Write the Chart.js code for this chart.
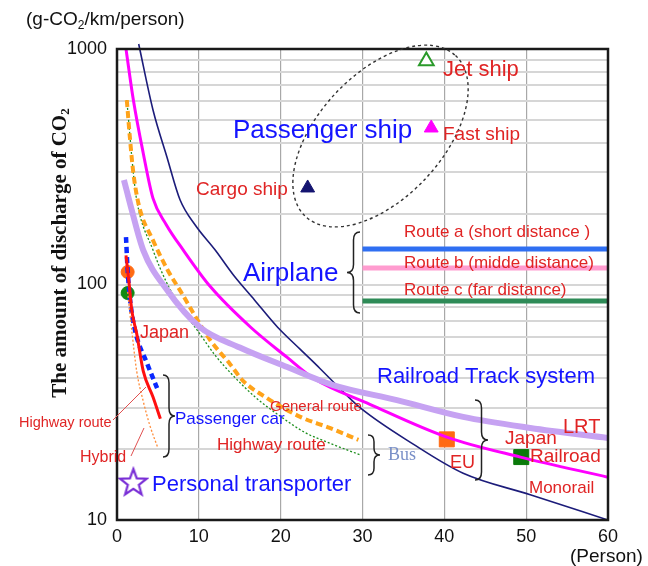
<!DOCTYPE html>
<html>
<head>
<meta charset="utf-8">
<script src="https://cdn.jsdelivr.net/npm/chart.js@4.4.0/dist/chart.umd.min.js"></script>
<style>
  html, body { margin: 0; padding: 0; background: #fff; }
  canvas { display: block; }
</style>
</head>
<body>
<canvas id="chart" width="648" height="566"></canvas>
<script>
// axis ticks
const xTicks = [0, 10, 20, 30, 40, 50, 60];
const yGrid = [10, 20, 30, 40, 50, 60, 70, 80, 90, 100, 200, 300, 400, 500, 600, 700, 800, 900, 1000];
const yLabels = [10, 100, 1000];

// curves (x = persons, y = g-CO2/km/person)
const monorailX = [2.65, 4.4, 6.1, 7.7, 9.6, 12.0, 14.2, 16.8, 19.6, 22.4, 24.8, 27.3, 29.7, 36.2, 42.3, 50.5, 60];
const monorailY = [1050, 551, 348, 229, 178, 140, 110, 86, 66, 53, 44, 36, 30, 21, 15.8, 12.8, 10];

const railX = [1.1, 2.0, 3.2, 4.4, 6.0, 8.1, 11.4, 16.3, 20.8, 24.0, 30.9, 40.3, 49.3, 60];
const railY = [1000, 607, 362, 232, 180, 140, 98, 66, 49, 40, 31, 22.5, 18.5, 15.2];

const lrtX = [0.85, 1.8, 3.2, 6.1, 10.1, 15, 20.8, 26.4, 34.2, 42.3, 50.5, 60];
const lrtY = [278, 207, 140, 95, 66, 54, 44.6, 37.4, 32.3, 27.4, 24.6, 22.3];

const busGeneralX = [1.2, 1.6, 2.0, 2.7, 4.4, 6.2, 7.9, 9.8, 11.4, 13.8, 15.4, 18.3, 22.4, 26, 29.5];
const busGeneralY = [607, 411, 297, 215, 154, 115, 92, 71, 58, 46, 39, 33, 27.4, 24.6, 21.9];

const busHighwayX = [1.2, 2.0, 2.4, 4.4, 6.0, 8.0, 9.8, 12, 14.2, 17, 20, 23, 26, 29.7];
const busHighwayY = [607, 297, 229, 140, 103, 78, 64, 50, 41, 33, 27.5, 23.5, 21.2, 18.9];

const carGeneralX = [1.1, 1.3, 1.6, 2.2, 3.7, 4.9];
const carGeneralY = [159, 115, 86, 64, 46, 36.3];

const carHighwayX = [1.1, 1.5, 1.8, 2.4, 3.2, 4.4, 5.3];
const carHighwayY = [133, 99.5, 78, 62, 43, 33.3, 26.9];

const hybridX = [1.3, 1.8, 2.4, 3.2, 4.0, 5.0];
const hybridY = [93, 64, 43, 32, 25.3, 20.2];

// airplane routes (flat, from 30 to 60 persons)
const routeX = [30, 60];
const routeA = 141.5;
const routeB = 117.5;
const routeC = 85;

// single points
const carJapan = [1.3, 113];
const carHybrid = [1.3, 92];
const cargoShip = [23.3, 257];
const fastShip = [38.4, 462];
const jetShip = [37.8, 889];
const railEU = [40.3, 22];
const railJapan = [49.4, 18.5];
const transporter = [2.0, 14.5];

const RED = '#e02424';
const BLUE = '#1414ff';
const SANS = "'Liberation Sans', Arial, sans-serif";
const SERIF = "'Liberation Serif', 'Times New Roman', serif";

function pts(xs, ys) {
  return xs.map((x, i) => ({ x: x, y: ys[i] }));
}
function flat(xs, v) {
  return xs.map(x => ({ x: x, y: v }));
}

function curve(data, color, width, dash, extra) {
  return Object.assign({
    data: data,
    showLine: true,
    borderColor: color,
    borderWidth: width,
    borderDash: dash || [],
    pointRadius: 0,
    cubicInterpolationMode: 'monotone',
    fill: false
  }, extra || {});
}

function marker(p, style, radius, fillColor, strokeColor, bw) {
  return {
    data: [{ x: p[0], y: p[1] }],
    showLine: false,
    pointStyle: style,
    pointRadius: radius,
    pointBackgroundColor: fillColor,
    pointBorderColor: strokeColor || fillColor,
    pointBorderWidth: bw || 1
  };
}

// open star for the personal transporter
const star = document.createElement('canvas');
star.width = 32; star.height = 32;
(function () {
  const c = star.getContext('2d');
  c.beginPath();
  for (let i = 0; i < 10; i++) {
    const r = i % 2 === 0 ? 14 : 5.8;
    const a = -Math.PI / 2 + i * Math.PI / 5;
    c.lineTo(16 + r * Math.cos(a), 17 + r * Math.sin(a));
  }
  c.closePath();
  c.strokeStyle = '#7a2fd6';
  c.lineWidth = 2.2;
  c.stroke();
})();

// labels drawn on the plot: text, left x, middle y, size, colour, family
const notes = [
  ['Jet ship', 443, 70, 22, RED],
  ['Fast ship', 443, 135, 19, RED],
  ['Passenger ship', 233, 131, 26, BLUE],
  ['Cargo ship', 196, 190, 19, RED],
  ['Route a (short distance )', 404, 232, 17, RED],
  ['Route b (midde distance)', 404, 263, 17, RED],
  ['Route c (far distance)', 404, 290, 17, RED],
  ['Airplane', 243, 274, 26, BLUE],
  ['Japan', 140, 333, 18, RED],
  ['Railroad Track system', 377, 377, 22, BLUE],
  ['LRT', 563, 427, 20, RED],
  ['Japan', 505, 439, 19, RED],
  ['Railroad', 530, 457, 19, RED],
  ['EU', 450, 463, 18, RED],
  ['Monorail', 529, 488, 17, RED],
  ['General route', 270, 407, 15, RED],
  ['Highway route', 217, 445, 17, RED],
  ['Passenger car', 175, 419, 17, BLUE],
  ['Highway route', 19, 423, 14.5, RED],
  ['Hybrid', 80, 458, 16, RED],
  ['Personal transporter', 152, 485, 22, BLUE],
  ['Bus', 388, 455, 18, '#7a90c8', SERIF],
  ['(Person)', 570, 557, 19, '#111']
];

function brace(ctx, x, tip, y1, y2) {
  const d = (tip - x) / 2, ym = (y1 + y2) / 2, r = Math.min(8, (y2 - y1) / 6);
  ctx.beginPath();
  ctx.moveTo(x, y1);
  ctx.quadraticCurveTo(x + d, y1, x + d, y1 + r);
  ctx.lineTo(x + d, ym - r);
  ctx.quadraticCurveTo(x + d, ym, tip, ym);
  ctx.quadraticCurveTo(x + d, ym, x + d, ym + r);
  ctx.lineTo(x + d, y2 - r);
  ctx.quadraticCurveTo(x + d, y2, x, y2);
  ctx.stroke();
}

const overlay = {
  id: 'overlay',
  afterDatasetsDraw(chart) {
    const ctx = chart.ctx, a = chart.chartArea;
    const sx = chart.scales.x, sy = chart.scales.y;
    ctx.save();

    // box round the plot
    ctx.strokeStyle = '#1a1a1a';
    ctx.lineWidth = 2.5;
    ctx.strokeRect(a.left, a.top, a.right - a.left, a.bottom - a.top);

    // dashed ellipse round the ships
    ctx.strokeStyle = '#333';
    ctx.lineWidth = 1.4;
    ctx.setLineDash([3, 3]);
    ctx.beginPath();
    ctx.ellipse(sx.getPixelForValue(32.2), sy.getPixelForValue(427), 110, 62, -47 * Math.PI / 180, 0, Math.PI * 2);
    ctx.stroke();
    ctx.setLineDash([]);

    // braces
    ctx.strokeStyle = '#222';
    ctx.lineWidth = 1.5;
    brace(ctx, 360, 347, 232, 313);
    brace(ctx, 163, 175, 375, 457);
    brace(ctx, 368, 380, 435, 475);
    brace(ctx, 475, 488, 400, 480);

    // leader lines for the small car labels
    ctx.strokeStyle = '#e05050';
    ctx.lineWidth = 1;
    ctx.beginPath();
    ctx.moveTo(113, 420); ctx.lineTo(146, 387);
    ctx.moveTo(131, 456); ctx.lineTo(144, 428);
    ctx.stroke();

    // texts
    ctx.textBaseline = 'middle';
    ctx.textAlign = 'left';
    notes.forEach(n => {
      ctx.font = n[3] + 'px ' + (n[5] || SANS);
      ctx.fillStyle = n[4];
      ctx.fillText(n[0], n[1], n[2]);
    });

    // unit at the top left
    ctx.fillStyle = '#111';
    ctx.font = '19px ' + SANS;
    let x = 26;
    ctx.fillText('(g-CO', x, 20);
    x += ctx.measureText('(g-CO').width;
    ctx.font = '12px ' + SANS;
    ctx.fillText('2', x, 26);
    x += ctx.measureText('2').width;
    ctx.font = '19px ' + SANS;
    ctx.fillText('/km/person)', x, 20);

    // y axis title, rotated
    ctx.translate(61, 253);
    ctx.rotate(-Math.PI / 2);
    ctx.font = 'bold 21px ' + SERIF;
    const main = 'The amount of discharge of CO';
    ctx.font = 'bold 21px ' + SERIF;
    const w1 = ctx.measureText(main).width;
    ctx.font = 'bold 13px ' + SERIF;
    const w2 = ctx.measureText('2').width;
    let tx = -(w1 + w2) / 2;
    ctx.font = 'bold 21px ' + SERIF;
    ctx.fillText(main, tx, 0);
    ctx.font = 'bold 13px ' + SERIF;
    ctx.fillText('2', tx + w1, 5);

    ctx.restore();
  }
};

Chart.defaults.font.family = SANS;

new Chart(document.getElementById('chart'), {
  type: 'scatter',
  data: {
    datasets: [
      curve(flat(routeX, routeA), '#2f6ff2', 5, null, { cubicInterpolationMode: 'default' }),
      curve(flat(routeX, routeB), '#ff9ccf', 5, null, { cubicInterpolationMode: 'default' }),
      curve(flat(routeX, routeC), '#2e8b57', 5, null, { cubicInterpolationMode: 'default' }),
      curve(pts(lrtX, lrtY), '#c6a2f2', 6),
      curve(pts(busGeneralX, busGeneralY), '#ffa31a', 4, [7, 4]),
      curve(pts(busHighwayX, busHighwayY), '#1f8f1f', 1.3, [2, 2]),
      curve(pts(railX, railY), '#ff00ff', 3),
      curve(pts(monorailX, monorailY), '#1c1c7a', 1.6, null, { clip: { left: 0, top: 6, right: 0, bottom: 0 } }),
      curve(pts(hybridX, hybridY), '#ff8c3a', 1.3, [2, 2]),
      curve(pts(carHighwayX, carHighwayY), '#ff1010', 3),
      curve(pts(carGeneralX, carGeneralY), '#0a28ff', 4.5, [6, 4]),
      marker(carJapan, 'circle', 6.5, '#ff6a13'),
      marker(carHybrid, 'circle', 6.5, '#118a11'),
      marker(cargoShip, 'triangle', 8, '#141470'),
      marker(fastShip, 'triangle', 8, '#ff00ff'),
      marker(jetShip, 'triangle', 8.5, '#ffffff', '#2a9a2a', 2),
      marker(railEU, 'rect', 10.6, '#ff6a13'),
      marker(railJapan, 'rect', 10.6, '#0a7a0a'),
      marker(transporter, star, 16, '#ffffff')
    ]
  },
  options: {
    responsive: false,
    animation: false,
    devicePixelRatio: 1,
    layout: { padding: { top: 49, right: 40, bottom: 0, left: 0 } },
    plugins: { legend: { display: false }, tooltip: { enabled: false } },
    scales: {
      x: {
        type: 'linear',
        min: 0,
        max: 60,
        afterFit(scale) { scale.height = 46; },
        afterBuildTicks(scale) { scale.ticks = xTicks.map(v => ({ value: v })); },
        grid: { color: '#a8a8a8', lineWidth: 1.2, drawTicks: false },
        border: { display: false },
        ticks: { color: '#111', font: { size: 18 }, padding: 6, maxRotation: 0 }
      },
      y: {
        type: 'logarithmic',
        min: 10,
        max: 1000,
        afterFit(scale) { scale.width = 117; },
        afterBuildTicks(scale) { scale.ticks = yGrid.map(v => ({ value: v })); },
        grid: { color: '#d6d6d6', lineWidth: 2, drawTicks: false },
        border: { display: false },
        ticks: {
          color: '#111',
          font: { size: 18 },
          padding: 10,
          autoSkip: false,
          callback: v => yLabels.includes(v) ? String(v) : ''
        }
      }
    }
  },
  plugins: [overlay]
});
</script>
</body>
</html>
